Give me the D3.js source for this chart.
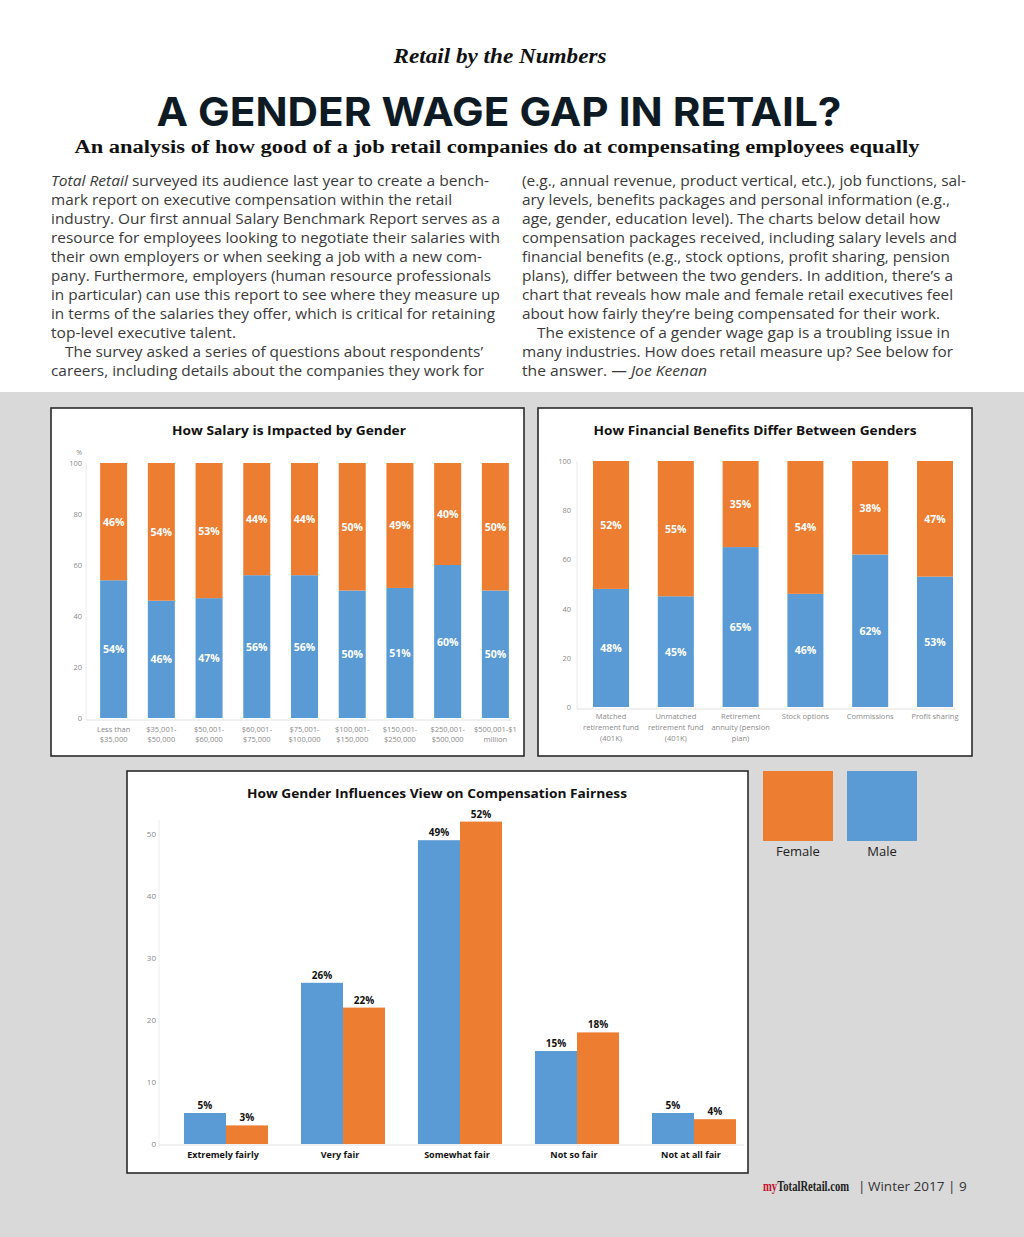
<!DOCTYPE html>
<html><head><meta charset="utf-8">
<script src="https://cdn.jsdelivr.net/npm/d3@7"></script>
<style>body{margin:0;background:#fff}svg{display:block}</style>
</head><body>
<svg id="page" width="1024" height="1237"></svg>
<script>
// ---------------- DATA ----------------
const salaryCategories = ["Less than\n$35,000","$35,001-\n$50,000","$50,001-\n$60,000","$60,001-\n$75,000","$75,001-\n$100,000","$100,001-\n$150,000","$150,001-\n$250,000","$250,001-\n$500,000","$500,001-$1\nmillion"];
const salaryMale   = [54,46,47,56,56,50,51,60,50];
const salaryFemale = [46,54,53,44,44,50,49,40,50];

const benefitCategories = ["Matched\nretirement fund\n(401K)","Unmatched\nretirement fund\n(401K)","Retirement\nannuity (pension\nplan)","Stock options","Commissions","Profit sharing"];
const benefitMale   = [48,45,65,46,62,53];
const benefitFemale = [52,55,35,54,38,47];

const fairnessCategories = ["Extremely fairly","Very fair","Somewhat fair","Not so fair","Not at all fair"];
const fairnessMale   = [5,26,49,15,5];
const fairnessFemale = [3,22,52,18,4];

const ticks100 = [0,20,40,60,80,100];
const ticks50  = [0,10,20,30,40,50];
const seriesKeys = ["male","female"];
const legendLabels = ["Female","Male"];

// ---------------- TEXT ----------------
const bodyLeft = [
"*Total Retail* surveyed its audience last year to create a bench-",
"mark report on executive compensation within the retail",
"industry. Our first annual Salary Benchmark Report serves as a",
"resource for employees looking to negotiate their salaries with",
"their own employers or when seeking a job with a new com-",
"pany. Furthermore, employers (human resource professionals",
"in particular) can use this report to see where they measure up",
"in terms of the salaries they offer, which is critical for retaining",
"top-level executive talent.",
"The survey asked a series of questions about respondents’",
"careers, including details about the companies they work for"];
const bodyRight = [
"(e.g., annual revenue, product vertical, etc.), job functions, sal-",
"ary levels, benefits packages and personal information (e.g.,",
"age, gender, education level). The charts below detail how",
"compensation packages received, including salary levels and",
"financial benefits (e.g., stock options, profit sharing, pension",
"plans), differ between the two genders. In addition, there’s a",
"chart that reveals how male and female retail executives feel",
"about how fairly they’re being compensated for their work.",
"The existence of a gender wage gap is a troubling issue in",
"many industries. How does retail measure up? See below for",
"the answer. — *Joe Keenan*"];

// layout
const leftStarts = [51,51,51,51,51,51,51,51,51,65,51];
const leftEnds   = [489,452,500,500,482,491,500,495,236,483,484];
const rightStarts = [522,522,522,522,522,522,522,522,537,522,522];
const rightEnds   = [966,950,940,957,950,953,953,940,950,953,707];

const ORANGE = "#ED7D31", BLUE = "#5B9BD5";
const colorOf = {male: BLUE, female: ORANGE};
const SANS = "'Open Sans', 'Noto Sans', sans-serif";
const SERIF = "'Liberation Serif', 'DejaVu Serif', serif";

const svg = d3.select("#page");
svg.append("rect").attr("x",0).attr("y",392).attr("width",1024).attr("height",845).attr("fill","#d9d9d9");

// header
svg.append("text").attr("x",500).attr("y",63).attr("text-anchor","middle")
  .attr("font-family",SERIF).attr("font-style","italic").attr("font-weight","bold")
  .attr("font-size",20).attr("fill","#111").attr("textLength",213).attr("lengthAdjust","spacingAndGlyphs")
  .text("Retail by the Numbers");
svg.append("text").attr("x",499).attr("y",126).attr("text-anchor","middle")
  .attr("font-family","Inter, 'Open Sans', sans-serif").attr("font-weight","bold")
  .attr("font-size",40).attr("fill","#0e1b25").attr("textLength",685).attr("lengthAdjust","spacingAndGlyphs")
  .text("A GENDER WAGE GAP IN RETAIL?");
svg.append("text").attr("x",497).attr("y",153).attr("text-anchor","middle")
  .attr("font-family",SERIF).attr("font-weight","bold")
  .attr("font-size",18.5).attr("fill","#111").attr("textLength",845).attr("lengthAdjust","spacingAndGlyphs")
  .text("An analysis of how good of a job retail companies do at compensating employees equally");

function bodyLines(lines, starts, ends) {
  lines.forEach((ln,i)=>{
    const t = svg.append("text").attr("x",starts[i]).attr("y",186+i*19)
      .attr("font-family",SANS).attr("font-size",14).attr("fill","#3a3a3a")
      .attr("textLength",ends[i]-starts[i]).attr("lengthAdjust","spacingAndGlyphs");
    ln.split("*").forEach((part,j)=>{
      if(!part) return;
      t.append("tspan").attr("font-style", j%2===1 ? "italic" : "normal").text(part);
    });
  });
}
bodyLines(bodyLeft, leftStarts, leftEnds);
bodyLines(bodyRight, rightStarts, rightEnds);

// ---------------- STACKED CHARTS ----------------
function frame(x,y,w,h){
  svg.append("rect").attr("x",x).attr("y",y).attr("width",w).attr("height",h)
    .attr("fill","#fff").attr("stroke","#2a2a2a").attr("stroke-width",1.6);
}
function title(x,y,len,txt){
  svg.append("text").attr("x",x).attr("y",y).attr("text-anchor","middle")
    .attr("font-family",SANS).attr("font-weight","bold").attr("font-size",13).attr("fill","#111")
    .attr("textLength",len).attr("lengthAdjust","spacingAndGlyphs").text(txt);
}

function stacked(cfg){
  const g = svg.append("g");
  const data = cfg.cats.map((c,i)=>({cat:c, male:cfg.male[i], female:cfg.female[i]}));
  const series = d3.stack().keys(seriesKeys)(data);
  const x = d3.scaleBand().domain(cfg.cats).range(cfg.xr).paddingInner(cfg.pi).paddingOuter(cfg.po);
  const y = d3.scaleLinear().domain([0,100]).range(cfg.yr);
  const bw = x.bandwidth();
  g.append("line").attr("x1",cfg.axisX).attr("x2",cfg.axisX).attr("y1",y(100)).attr("y2",y(0)+2)
    .attr("stroke","#ececec");
  g.append("line").attr("x1",cfg.axisX).attr("x2",x(cfg.cats[cfg.cats.length-1])+bw+3)
    .attr("y1",y(0)+2).attr("y2",y(0)+2).attr("stroke","#e2e2e2");
  const ax = g.append("g").attr("transform",`translate(${cfg.axisX},0)`)
    .call(d3.axisLeft(y).tickValues(ticks100).tickSize(0).tickPadding(cfg.pad));
  ax.select(".domain").remove();
  ax.selectAll("text").attr("font-family",SANS).attr("font-size",7.5).attr("fill","#8a8a8a");
  g.selectAll("g.s").data(series).join("g").attr("fill",d=>colorOf[d.key])
    .selectAll("rect").data(d=>d).join("rect")
    .attr("x",d=>x(d.data.cat)).attr("width",bw)
    .attr("y",d=>y(d[1])).attr("height",d=>y(d[0])-y(d[1]));
  series.forEach(s=>{
    g.selectAll(null).data(s).join("text")
      .attr("x",d=>x(d.data.cat)+bw/2).attr("y",d=>y((d[0]+d[1])/2)+4)
      .attr("text-anchor","middle").attr("font-family",SANS).attr("font-weight","bold")
      .attr("font-size",10.5).attr("fill","#fff")
      .text(d=>(d[1]-d[0])+"%");
  });
  cfg.cats.forEach(c=>{
    const t = g.append("text").attr("text-anchor","middle").attr("font-family",SANS)
      .attr("font-size",7.5).attr("fill","#8a8a8a");
    c.split("\n").forEach((l,i)=>{
      t.append("tspan").attr("x",x(c)+bw/2).attr("y",cfg.catY+i*cfg.lineH).text(l);
    });
  });
  return g;
}

// Chart 1
frame(51,408,473,348);
title(289,435,234,"How Salary is Impacted by Gender");
svg.append("text").attr("x",82).attr("y",455).attr("text-anchor","end").attr("font-family",SANS)
  .attr("font-size",7).attr("fill","#8a8a8a").text("%");
stacked({cats:salaryCategories, male:salaryMale, female:salaryFemale,
  xr:[90,519], pi:0.434, po:0.212, yr:[718,463], axisX:86, pad:4, catY:732, lineH:10});

// Chart 2
frame(538,408,434,348);
title(755,435,323,"How Financial Benefits Differ Between Genders");
stacked({cats:benefitCategories, male:benefitMale, female:benefitFemale,
  xr:[577,969], pi:0.444, po:0.247, yr:[707,461], axisX:577, pad:6, catY:719, lineH:11});

// ---------------- GROUPED CHART ----------------
frame(127,771,621,402);
title(437,798,380,"How Gender Influences View on Compensation Fairness");
(function(){
  const g = svg.append("g");
  const data = fairnessCategories.map((c,i)=>({cat:c, male:fairnessMale[i], female:fairnessFemale[i]}));
  const x0 = d3.scaleBand().domain(fairnessCategories).range([172.3,747.7]).paddingInner(0.282).paddingOuter(0.1);
  const x1 = d3.scaleBand().domain(seriesKeys).range([0,x0.bandwidth()]);
  const y = d3.scaleLinear().domain([0,50]).range([1144,834]);
  g.append("line").attr("x1",159).attr("x2",159).attr("y1",820).attr("y2",1145).attr("stroke","#ececec");
  g.append("line").attr("x1",159).attr("x2",744).attr("y1",1145).attr("y2",1145).attr("stroke","#e2e2e2");
  const ax = g.append("g").attr("transform","translate(159,0)")
    .call(d3.axisLeft(y).tickValues(ticks50).tickSize(0).tickPadding(3));
  ax.select(".domain").remove();
  ax.selectAll("text").attr("font-family",SANS).attr("font-size",8).attr("fill","#8a8a8a");
  const grp = g.selectAll("g.grp").data(data).join("g").attr("transform",d=>`translate(${x0(d.cat)},0)`);
  grp.selectAll("rect").data(d=>seriesKeys.map(k=>({key:k, v:d[k]}))).join("rect")
    .attr("x",d=>x1(d.key)).attr("width",x1.bandwidth())
    .attr("y",d=>y(d.v)).attr("height",d=>y(0)-y(d.v)).attr("fill",d=>colorOf[d.key]);
  grp.selectAll("text").data(d=>seriesKeys.map(k=>({key:k, v:d[k]}))).join("text")
    .attr("x",d=>x1(d.key)+x1.bandwidth()/2).attr("y",d=>y(d.v)-4)
    .attr("text-anchor","middle").attr("font-family",SANS).attr("font-weight","bold")
    .attr("font-size",10).attr("fill","#111").text(d=>d.v+"%");
  g.selectAll("text.cat").data(fairnessCategories).join("text").attr("class","cat")
    .attr("x",d=>x0(d)+x0.bandwidth()/2-3).attr("y",1158).attr("text-anchor","middle")
    .attr("font-family",SANS).attr("font-weight","bold").attr("font-size",9).attr("fill","#111").text(d=>d);
})();

// legend
const legendColors = [ORANGE, BLUE];
legendLabels.forEach((l,i)=>{
  svg.append("rect").attr("x",763+i*84).attr("y",771).attr("width",70).attr("height",70)
    .attr("fill",legendColors[i]);
  svg.append("text").attr("x",798+i*84).attr("y",856).attr("text-anchor","middle")
    .attr("font-family",SANS).attr("font-size",13).attr("fill","#222").text(l);
});

// footer
const brand = svg.append("g").attr("transform","translate(763,1191) scale(0.76,1)")
  .append("text").attr("x",0).attr("y",0).attr("font-size",14).attr("font-weight","bold")
  .attr("font-family",SERIF);
brand.append("tspan").attr("fill","#c8102e").text("my");
brand.append("tspan").attr("fill","#222").text("TotalRetail.com");
const footRest = [{t:"|",x:858},{t:"Winter 2017",x:868},{t:"|",x:948},{t:"9",x:959}];
footRest.forEach(d=>{
  svg.append("text").attr("x",d.x).attr("y",1191).attr("font-family",SANS).attr("font-size",13.5)
    .attr("fill","#333").text(d.t);
});
</script>
</body></html>
